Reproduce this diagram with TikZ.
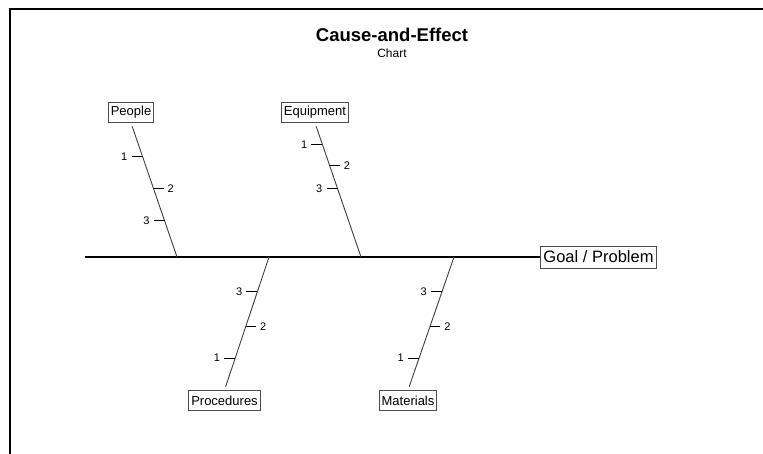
\documentclass[tikz,border=0pt]{standalone}
\usepackage{fontspec}
\setmainfont{Liberation Sans}
\usetikzlibrary{positioning, calc}

\begin{document}
\begin{tikzpicture}[x=1pt, y=-1pt,
    cause/.style={draw=black!70, line width=0.8pt, inner xsep=2.5pt, inner ysep=0pt, minimum height=20pt, font=\fontsize{13}{15}\selectfont},
    goalbox/.style={cause, minimum height=22pt, inner xsep=3pt, font=\fontsize{16.5}{19}\selectfont},
    num/.style={inner xsep=4pt, inner ysep=0pt, font=\fontsize{11}{13}\selectfont},
    bone/.style={draw=black!75, line width=0.9pt, shorten <=3.5pt},
    tick/.style={draw=black, line width=0.9pt}]
    \useasboundingbox (0,0) rectangle (763,454);
    % Frame
    \draw[line width=2pt] (763,9.5) -- (9.5,9.5) -- (9.5,454);
    % Title
    \node[inner sep=0pt, font=\fontsize{18.5}{22}\selectfont\bfseries] (title) at (392,35.3) {Cause-and-Effect};
    \node[inner sep=0pt, font=\fontsize{12}{14}\selectfont, below=6pt of title] (subtitle) {Chart};
    % Spine and goal
    \node[goalbox] (goal) at (598.5,257) {Goal / Problem};
    \coordinate (tail) at (85,257);
    \draw[line width=2pt] (tail) -- (goal);
    % Main causes
    \node[cause] (ppl) at (131,112.5) {People};
    \node[cause] (eqp) at (315,112.5) {Equipment};
    \node[cause] (prc) at (224.5,400.5) {Procedures};
    \node[cause] (mat) at (408,400.5) {Materials};
    \foreach \b/\x in {ppl/177, eqp/361, prc/269, mat/454}
        \coordinate (\b-j) at (\x,257);
    \foreach \b/\a in {ppl/south, eqp/south, prc/north, mat/north}
        \draw[bone] (\b.\a) -- (\b-j);
    % Sub-causes on the left
    \foreach \b/\a/\t/\n in {ppl/south/0.25/1, ppl/south/0.73/3, eqp/south/0.16/1, eqp/south/0.49/3,
                             prc/north/0.24/1, prc/north/0.74/3, mat/north/0.24/1, mat/north/0.74/3} {
        \coordinate (\b-\n) at ($(\b.\a)!\t!(\b-j)$);
        \node[num, left=11pt of \b-\n] (\b-\n-lbl) {\n};
        \draw[tick] (\b-\n) -- (\b-\n-lbl);
    }
    % Sub-causes on the right
    \foreach \b/\a/\t in {ppl/south/0.49, eqp/south/0.32, prc/north/0.48, mat/north/0.48} {
        \coordinate (\b-2) at ($(\b.\a)!\t!(\b-j)$);
        \node[num, right=10pt of \b-2] (\b-2-lbl) {2};
        \draw[tick] (\b-2) -- (\b-2-lbl);
    }
\end{tikzpicture}
\end{document}
